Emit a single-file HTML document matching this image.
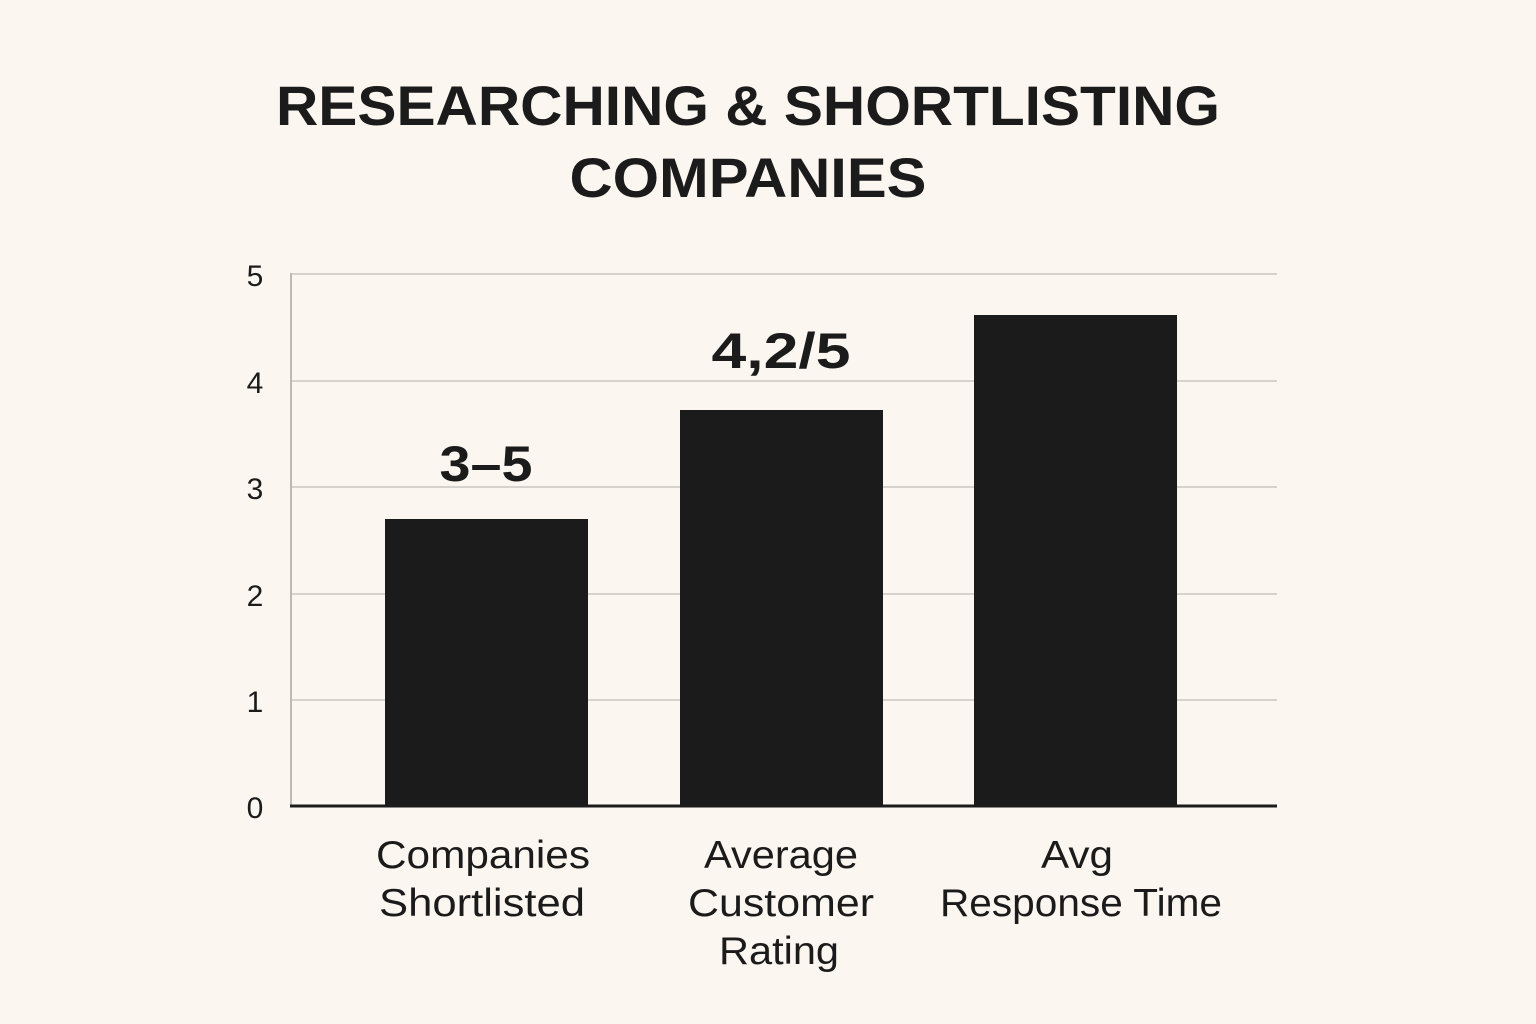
<!DOCTYPE html>
<html><head><style>
body{margin:0;background:#fbf6f0;}
svg{display:block}
text{font-family:"Liberation Sans",sans-serif;fill:#1b1b1b}
</style></head><body>
<svg width="1536" height="1024" viewBox="0 0 1536 1024">
<rect width="1536" height="1024" fill="#fbf6f0"/>
<text x="748" y="125" font-size="56" font-weight="bold" text-anchor="middle" textLength="944" lengthAdjust="spacingAndGlyphs">RESEARCHING &amp; SHORTLISTING</text>
<text x="748" y="197" font-size="56" font-weight="bold" text-anchor="middle" textLength="357" lengthAdjust="spacingAndGlyphs">COMPANIES</text>
<g stroke="#d6d2cc" stroke-width="2">
<line x1="291" y1="274" x2="1277" y2="274"/>
<line x1="291" y1="381" x2="1277" y2="381"/>
<line x1="291" y1="487" x2="1277" y2="487"/>
<line x1="291" y1="594" x2="1277" y2="594"/>
<line x1="291" y1="700" x2="1277" y2="700"/>
</g>
<line x1="291" y1="273" x2="291" y2="806" stroke="#bdb9b3" stroke-width="2"/>
<g font-size="30" text-anchor="middle">
<text x="255" y="286">5</text>
<text x="255" y="393">4</text>
<text x="255" y="499">3</text>
<text x="255" y="606">2</text>
<text x="255" y="712">1</text>
<text x="255" y="818">0</text>
</g>
<rect x="385" y="519" width="203" height="287" fill="#1b1b1b"/>
<rect x="680" y="410" width="203" height="396" fill="#1b1b1b"/>
<rect x="974" y="315" width="203" height="491" fill="#1b1b1b"/>
<line x1="290" y1="806" x2="1277" y2="806" stroke="#1b1b1b" stroke-width="3"/>
<text x="486" y="481" font-size="50" font-weight="bold" text-anchor="middle" textLength="93" lengthAdjust="spacingAndGlyphs">3–5</text>
<text x="781" y="368" font-size="50" font-weight="bold" text-anchor="middle" textLength="139" lengthAdjust="spacingAndGlyphs">4,2/5</text>
<g font-size="39" text-anchor="middle" lengthAdjust="spacingAndGlyphs">
<text x="483" y="868" textLength="214" lengthAdjust="spacingAndGlyphs">Companies</text>
<text x="482" y="916" textLength="206" lengthAdjust="spacingAndGlyphs">Shortlisted</text>
<text x="781" y="868" textLength="154" lengthAdjust="spacingAndGlyphs">Average</text>
<text x="781" y="916" textLength="186" lengthAdjust="spacingAndGlyphs">Customer</text>
<text x="779" y="964" textLength="120" lengthAdjust="spacingAndGlyphs">Rating</text>
<text x="1077" y="868" textLength="72" lengthAdjust="spacingAndGlyphs">Avg</text>
<text x="1081" y="916" textLength="282" lengthAdjust="spacingAndGlyphs">Response Time</text>
</g>
</svg>
</body></html>
